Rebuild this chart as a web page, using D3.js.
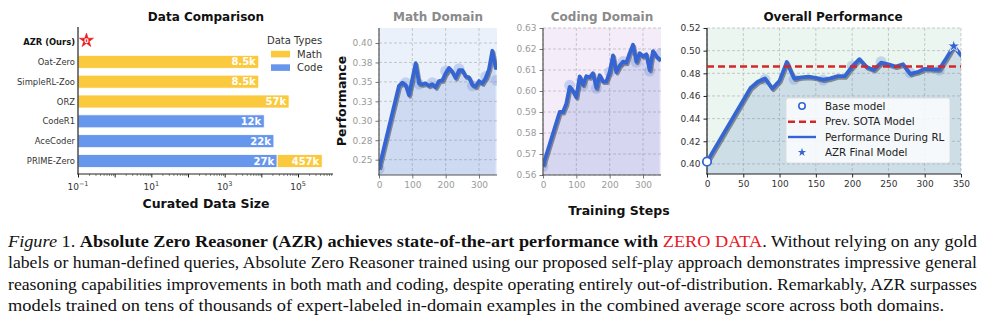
<!DOCTYPE html>
<html><head><meta charset="utf-8">
<script src="https://cdn.jsdelivr.net/npm/d3@7"></script>
<style>body{margin:0;background:#fff;} svg{display:block;font-family:"DejaVu Sans",sans-serif;}</style>
</head><body><svg id="c" width="987" height="325"></svg>
<script>
// ---------- DATA ----------
const dataCategories = ["AZR (Ours)","Oat-Zero","SimpleRL-Zoo","ORZ","CodeR1","AceCoder","PRIME-Zero"];
const mathDataSize = [0, 8500, 8500, 57000, 0, 0, 457000];
const codeDataSize = [0, 0, 0, 0, 12000, 22000, 27000];
const mathSizeLabels = ["", "8.5k", "8.5k", "57k", "", "", "457k"];
const codeSizeLabels = ["", "", "", "", "12k", "22k", "27k"];
const logTickExps = [-1, 1, 3, 5];
const azrDataSize = 0.15;

const mathSteps = [0,60,70,80,90,110,120,130,140,150,160,170,180,190,200,210,220,230,240,250,260,270,280,290,300,310,320,330,340,350];
const mathPerf  = [0.239,0.345,0.349,0.346,0.333,0.374,0.348,0.347,0.348,0.345,0.347,0.343,0.351,0.352,0.361,0.368,0.363,0.355,0.365,0.365,0.357,0.356,0.346,0.344,0.351,0.348,0.355,0.366,0.390,0.368];
const mathHaloSteps = [0,80,120,160,200,240,280,320,352];
const mathHaloPerf  = [0.238,0.349,0.347,0.349,0.364,0.367,0.345,0.357,0.352];

const codeSteps = [0,50,60,70,80,90,100,110,120,130,140,150,160,170,180,190,200,210,220,230,240,250,260,270,280,290,300,310,320,330,340,350];
const codePerf  = [0.5645,0.590,0.590,0.594,0.602,0.600,0.597,0.607,0.603,0.607,0.6065,0.6085,0.6015,0.6075,0.6045,0.6045,0.609,0.617,0.609,0.612,0.614,0.6135,0.618,0.622,0.614,0.618,0.6165,0.6175,0.610,0.619,0.6165,0.615];
const codeHaloSteps = [0,80,120,160,200,240,280,320,354];
const codeHaloPerf  = [0.564,0.6027,0.6025,0.6013,0.609,0.614,0.6138,0.6095,0.618];

const overallSteps = [0,60,70,80,90,100,110,120,130,140,150,160,170,180,190,200,210,220,230,240,250,260,270,280,290,300,310,320,330,340,350];
const overallPerf  = [0.402,0.467,0.4725,0.4755,0.4665,0.4735,0.490,0.4755,0.4765,0.477,0.476,0.4745,0.4755,0.4775,0.4775,0.486,0.4925,0.4855,0.483,0.4895,0.488,0.486,0.488,0.4795,0.481,0.484,0.4835,0.4835,0.4935,0.504,0.496];
const overallHaloSteps = [80,120,160,200,240,280,320];
const overallHaloPerf  = [0.4745,0.4747,0.474,0.4865,0.4903,0.4805,0.4828];
const baseModel = [0, 0.402];
const azrFinal = [340, 0.504];
const prevSota = 0.486;

const mathYTicks = [0.25,0.275,0.30,0.325,0.35,0.375,0.40];
const mathYLabels = ["0.25","0.28","0.30","0.33","0.35","0.38","0.40"];
const codeYTicks = [0.56,0.57,0.58,0.59,0.60,0.61,0.62,0.63];
const codeYLabels = ["0.56","0.57","0.58","0.59","0.60","0.61","0.62","0.63"];
const overallYTicks = [0.40,0.42,0.44,0.46,0.48,0.50,0.52];
const overallYLabels = ["0.40","0.42","0.44","0.46","0.48","0.50","0.52"];
const stepTicks = [0,100,200,300];
const overallXTicks = [0,50,100,150,200,250,300,350];

const legendOverall = ["Base model","Prev. SOTA Model","Performance During RL","AZR Final Model"];
const legendTypes = ["Math","Code"];

// ---------- STYLE ----------
const mathColor = "#fbc93d", codeColor = "#6797ec";
const lineColor = "#3465d3";
const svg = d3.select("#c");
svg.append("rect").attr("width",987).attr("height",325).attr("fill","#fff");
const defs = svg.append("defs");

// ---------- PANEL 1: Data Comparison ----------
const p1 = svg.append("g");
const xLog = d3.scaleLog().domain([0.1, 9e5]).range([78, 333]);
const yCat = d3.scalePoint().domain(dataCategories).range([42, 161]);
const barH = 13;
const rows = dataCategories.map((c,i)=>({c, math:mathDataSize[i], code:codeDataSize[i], ml:mathSizeLabels[i], cl:codeSizeLabels[i]}));

p1.selectAll("rect.code").data(rows.filter(d=>d.code>0)).join("rect")
  .attr("x", xLog(0.1)).attr("y", d=>yCat(d.c)-barH/2)
  .attr("width", d=>xLog(d.code)-xLog(0.1)).attr("height", barH)
  .attr("fill", codeColor).attr("stroke","#fff").attr("stroke-width",0.8);
p1.selectAll("rect.math").data(rows.filter(d=>d.math>0)).join("rect")
  .attr("x", d=>xLog(d.code>0?d.code:0.1)).attr("y", d=>yCat(d.c)-barH/2)
  .attr("width", d=>xLog(d.math)-xLog(d.code>0?d.code:0.1)).attr("height", barH)
  .attr("fill", mathColor).attr("stroke","#fff").attr("stroke-width",0.8);
p1.selectAll("text.cl").data(rows.filter(d=>d.code>0)).join("text")
  .attr("x", d=>xLog(d.code)-3).attr("y", d=>yCat(d.c)).attr("dy","0.36em")
  .attr("text-anchor","end").attr("font-size",10).attr("font-weight","bold").attr("fill","#fff").text(d=>d.cl);
p1.selectAll("text.ml").data(rows.filter(d=>d.math>0)).join("text")
  .attr("x", d=>xLog(d.math)-3).attr("y", d=>yCat(d.c)).attr("dy","0.36em")
  .attr("text-anchor","end").attr("font-size",10).attr("font-weight","bold").attr("fill","#fff").text(d=>d.ml);
// category labels
p1.selectAll("text.cat").data(dataCategories).join("text")
  .attr("x",75).attr("y",d=>yCat(d)).attr("dy","0.36em").attr("text-anchor","end")
  .attr("font-size",8.4).attr("fill",(d,i)=>i===0?"#111":"#333").attr("font-weight",(d,i)=>i===0?"bold":"normal").text(d=>d);
// AZR star
const azrY = yCat(dataCategories[0]) - 1.5;
p1.append("path").attr("d", d3.symbol(d3.symbolStar, 62)())
  .attr("transform",`translate(${xLog(azrDataSize)+2},${azrY})`).attr("fill","#f01818").attr("stroke","#f01818").attr("stroke-width",0.6);
p1.append("text").attr("x",xLog(azrDataSize)+2).attr("y",azrY+0.5).attr("dy","0.35em").attr("text-anchor","middle")
  .attr("font-size",6.5).attr("font-weight","bold").attr("fill","#fff").text("0");
// log axis
const decades = d3.range(-1, 6).map(e=>Math.pow(10,e));
const minors = [];
d3.range(-1,6).forEach(e=>{ for(let k=2;k<=9;k++){ const v=k*Math.pow(10,e); if(v<9e5) minors.push(v);} });
const ax1 = p1.append("g").attr("transform","translate(0,174)");
ax1.append("g").call(d3.axisBottom(xLog).tickValues(decades).tickSize(3.5).tickFormat(""))
  .call(g=>{g.select(".domain").remove(); g.selectAll("line").attr("stroke","#222");});
ax1.append("g").call(d3.axisBottom(xLog).tickValues(minors).tickSize(2).tickFormat(""))
  .call(g=>{g.select(".domain").remove(); g.selectAll("line").attr("stroke","#444").attr("stroke-width",0.6);});
logTickExps.forEach(e=>{
  const t = p1.append("text").attr("x", xLog(Math.pow(10,e))).attr("y",190).attr("text-anchor","middle").attr("font-size",9).attr("fill","#333");
  t.append("tspan").text("10");
  t.append("tspan").attr("dy",-4).attr("font-size",6.5).text(e<0?"\u2212"+(-e):String(e));
});
p1.append("line").attr("x1",78).attr("x2",78).attr("y1",27).attr("y2",174.5).attr("stroke","#222").attr("stroke-width",1.2);
p1.append("line").attr("x1",77.5).attr("x2",333).attr("y1",174).attr("y2",174).attr("stroke","#222").attr("stroke-width",1.2);
p1.append("text").attr("x",206).attr("y",20.5).attr("text-anchor","middle").attr("font-size",12).attr("font-weight","bold").attr("fill","#111").text("Data Comparison");
p1.append("text").attr("x",206).attr("y",207.5).attr("text-anchor","middle").attr("font-size",12.5).attr("font-weight","bold").attr("fill","#111").text("Curated Data Size");
// legend types
p1.append("text").attr("x",267).attr("y",44.3).attr("font-size",10).attr("fill","#333").text("Data Types");
legendTypes.forEach((t,i)=>{
  p1.append("rect").attr("x",271).attr("y",50.8+i*13.5).attr("width",19).attr("height",6.6).attr("fill",i===0?mathColor:codeColor);
  p1.append("text").attr("x",297).attr("y",57.8+i*13.5).attr("font-size",10).attr("fill","#333").text(t);
});

// ---------- LINE PANELS ----------
function linePanel(o){
  const g = svg.append("g");
  const x = d3.scaleLinear().domain(o.xDomain).range(o.xRange);
  const y = d3.scaleLinear().domain(o.yDomain).range(o.yRange);
  const [x0,x1] = o.xRange, [yb,yt] = o.yRange;
  g.append("rect").attr("x",x0).attr("y",yt).attr("width",x1-x0).attr("height",yb-yt).attr("fill",o.bg);
  // grid
  g.append("g").selectAll("line").data(o.yTicks).join("line")
    .attr("x1",x0).attr("x2",x1).attr("y1",d=>y(d)).attr("y2",d=>y(d))
    .attr("stroke","#b5b5b5").attr("stroke-width",0.7).attr("stroke-dasharray","3,2");
  g.append("g").selectAll("line").data(o.xTicks).join("line")
    .attr("y1",yt).attr("y2",yb).attr("x1",d=>x(d)).attr("x2",d=>x(d))
    .attr("stroke","#b5b5b5").attr("stroke-width",0.7).attr("stroke-dasharray","3,2");
  const id = "clip_"+o.id;
  defs.append("clipPath").attr("id",id).append("rect").attr("x",x0).attr("y",yt).attr("width",x1-x0).attr("height",yb-yt);
  const c = g.append("g").attr("clip-path",`url(#${id})`);
  const pts = o.steps.map((s,i)=>[s,o.vals[i]]);
  const area = d3.area().x(d=>x(d[0])).y0(yb).y1(d=>y(d[1]));
  const line = d3.line().x(d=>x(d[0])).y(d=>y(d[1]));
  c.append("path").attr("d",area(pts)).attr("fill","#3f6cc6").attr("fill-opacity",0.17);
  const halos = o.haloSteps.map((s,i)=>[s,o.haloVals[i]]);
  c.selectAll("circle.h").data(halos).join("circle")
    .attr("cx",d=>x(d[0])).attr("cy",d=>y(d[1])).attr("r",5.5).attr("fill","#6d90dc").attr("fill-opacity",0.32);
  c.append("path").attr("d",line(pts)).attr("fill","none").attr("stroke","#333").attr("stroke-opacity",0.5)
    .attr("stroke-width",3.8).attr("stroke-linejoin","round").attr("transform","translate(1.2,1.6)");
  c.append("path").attr("d",line(pts)).attr("fill","none").attr("stroke",lineColor)
    .attr("stroke-width",3.8).attr("stroke-linejoin","round").attr("stroke-linecap","round");
  // axes
  const ya = g.append("g").attr("transform",`translate(${x0},0)`)
    .call(d3.axisLeft(y).tickValues(o.yTicks).tickFormat((d,i)=>o.yLabels[i]).tickSize(3.5).tickPadding(3));
  const xa = g.append("g").attr("transform",`translate(0,${yb})`)
    .call(d3.axisBottom(x).tickValues(o.xTicks).tickFormat(d=>String(d)).tickSize(3.5).tickPadding(3));
  [ya,xa].forEach(a=>{
    a.select(".domain").remove();
    a.selectAll("line").attr("stroke",o.tickColor);
    a.selectAll("text").attr("font-size",9).attr("fill",o.labelColor).attr("font-family","DejaVu Sans");
  });
  g.append("line").attr("x1",x0).attr("x2",x0).attr("y1",yt).attr("y2",yb+0.6).attr("stroke",o.spine).attr("stroke-width",1.2);
  g.append("line").attr("x1",x0-0.6).attr("x2",x1).attr("y1",yb).attr("y2",yb).attr("stroke",o.spine).attr("stroke-width",1.2);
  g.append("text").attr("x",o.titleX).attr("y",20.5).attr("text-anchor","middle").attr("font-size",12)
    .attr("font-weight","bold").attr("fill",o.titleColor).text(o.title);
  return {g,x,y};
}

linePanel({id:"math", title:"Math Domain", titleX:438, titleColor:"#8a8a8a", bg:"#eaf1fa",
  xDomain:[0,354], xRange:[379,497], yDomain:[0.2303,0.4193], yRange:[175,28],
  steps:mathSteps, vals:mathPerf, haloSteps:mathHaloSteps, haloVals:mathHaloPerf,
  yTicks:mathYTicks, yLabels:mathYLabels, xTicks:stepTicks,
  tickColor:"#777", labelColor:"#9a9a9a", spine:"#555"});

linePanel({id:"code", title:"Coding Domain", titleX:602, titleColor:"#8a8a8a", bg:"#f4ecf9",
  xDomain:[0,354], xRange:[543,661], yDomain:[0.56,0.63], yRange:[175,28],
  steps:codeSteps, vals:codePerf, haloSteps:codeHaloSteps, haloVals:codeHaloPerf,
  yTicks:codeYTicks, yLabels:codeYLabels, xTicks:stepTicks,
  tickColor:"#777", labelColor:"#9a9a9a", spine:"#555"});

const ov = linePanel({id:"overall", title:"Overall Performance", titleX:833, titleColor:"#111", bg:"#eaf6ef",
  xDomain:[0,350], xRange:[707,961], yDomain:[0.3911,0.52], yRange:[174,28],
  steps:overallSteps, vals:overallPerf, haloSteps:overallHaloSteps, haloVals:overallHaloPerf,
  yTicks:overallYTicks, yLabels:overallYLabels, xTicks:overallXTicks,
  tickColor:"#222", labelColor:"#333", spine:"#222"});

// prev SOTA line
ov.g.append("line").attr("x1",707).attr("x2",961).attr("y1",ov.y(prevSota)).attr("y2",ov.y(prevSota))
  .attr("stroke","#d62728").attr("stroke-width",2.4).attr("stroke-dasharray","7,4");
// base model & final star
ov.g.append("circle").attr("cx",ov.x(baseModel[0])).attr("cy",ov.y(baseModel[1])).attr("r",4.2)
  .attr("fill","#fff").attr("stroke",lineColor).attr("stroke-width",1.8);
ov.g.append("path").attr("d",d3.symbol(d3.symbolStar,48)()).attr("transform",`translate(${ov.x(azrFinal[0])},${ov.y(azrFinal[1])})`)
  .attr("fill",lineColor).attr("stroke","#fff").attr("stroke-width",0.8);
// legend
const lg = ov.g.append("g");
lg.append("rect").attr("x",786).attr("y",98).attr("width",164).attr("height",65).attr("rx",2.5)
  .attr("fill","#fff").attr("fill-opacity",0.82).attr("stroke","#d8d8d8").attr("stroke-width",0.8);
const ly = [106,121.7,137,152.3];
lg.append("circle").attr("cx",802).attr("cy",ly[0]).attr("r",3.2).attr("fill","#fff").attr("stroke",lineColor).attr("stroke-width",1.6);
lg.append("line").attr("x1",788).attr("x2",816).attr("y1",ly[1]).attr("y2",ly[1]).attr("stroke","#d62728").attr("stroke-width",2.4).attr("stroke-dasharray","7,4");
lg.append("line").attr("x1",788).attr("x2",816).attr("y1",ly[2]).attr("y2",ly[2]).attr("stroke",lineColor).attr("stroke-width",2.4);
lg.append("path").attr("d",d3.symbol(d3.symbolStar,22)()).attr("transform",`translate(802,${ly[3]})`).attr("fill",lineColor);
legendOverall.forEach((t,i)=>{
  lg.append("text").attr("x",825).attr("y",ly[i]).attr("dy","0.36em").attr("font-size",10.3).attr("fill","#222").text(t);
});

// shared labels
svg.append("text").attr("transform","translate(342,101) rotate(-90)").attr("text-anchor","middle").attr("dy","0.35em")
  .attr("font-size",12.5).attr("font-weight","bold").attr("fill","#111").text("Performance");
svg.append("text").attr("x",619).attr("y",214.5).attr("text-anchor","middle")
  .attr("font-size",12.5).attr("font-weight","bold").attr("fill","#111").text("Training Steps");

// ---------- CAPTION ----------
const cap = svg.append("g").attr("font-family","'Liberation Serif','Times New Roman',serif").attr("font-size",17.3).attr("fill","#111");
const l1 = cap.append("text").attr("x",8).attr("y",246.7).attr("textLength",969).attr("lengthAdjust","spacingAndGlyphs");
l1.append("tspan").attr("font-style","italic").text("Figure");
l1.append("tspan").text(" 1. ");
l1.append("tspan").attr("font-weight","bold").text("Absolute Zero Reasoner (AZR) achieves state-of-the-art performance with ");
l1.append("tspan").attr("fill","#e8191f").text("ZERO DATA");
l1.append("tspan").text(". Without relying on any gold");
const capLines = [
  "labels or human-defined queries, Absolute Zero Reasoner trained using our proposed self-play approach demonstrates impressive general",
  "reasoning capabilities improvements in both math and coding, despite operating entirely out-of-distribution. Remarkably, AZR surpasses",
  "models trained on tens of thousands of expert-labeled in-domain examples in the combined average score across both domains."
];
const capLens = [969, 969, 936];
capLines.forEach((t,i)=>{
  cap.append("text").attr("x",8).attr("y",268.3+i*21.4).attr("textLength",capLens[i]).attr("lengthAdjust","spacingAndGlyphs").text(t);
});
</script></body></html>
